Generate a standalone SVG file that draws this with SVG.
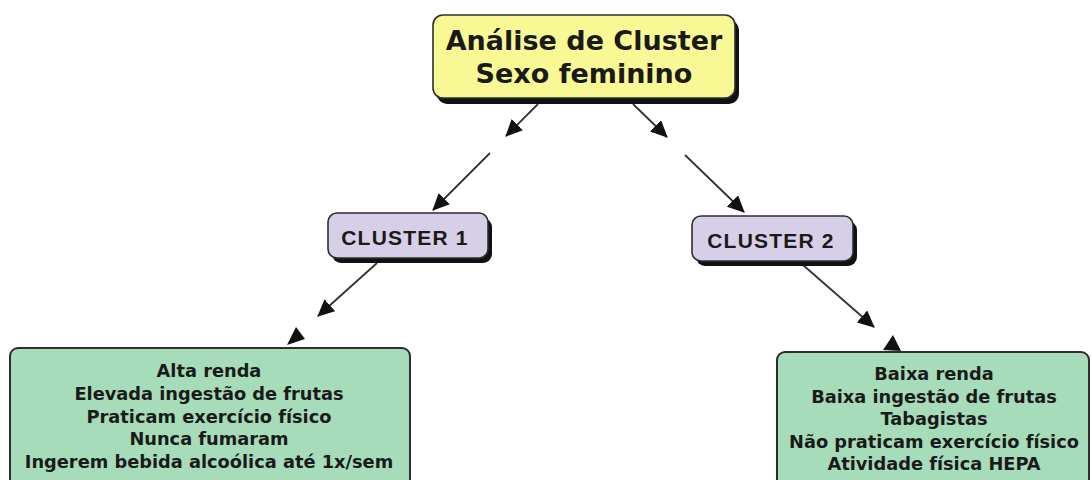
<svg xmlns="http://www.w3.org/2000/svg" width="1091" height="480" viewBox="0 0 1091 480">
  <style>
    .shadow { fill: #111111; }
    .box { stroke: #2e2e2e; stroke-width: 1.6; }
    .root { fill: #f8f895; }
    .cluster { fill: #d6cfe7; }
    .green { fill: #a6dcb9; stroke-width: 2; }
    .t-root { font-family: "DejaVu Sans", Verdana, sans-serif; font-weight: bold; font-size: 27px; fill: #1a1a1a; text-anchor: middle; }
    .t-cl { font-family: "Liberation Sans", Arial, sans-serif; font-weight: bold; font-size: 21px; letter-spacing: 1.2px; fill: #1a1a1a; text-anchor: middle; }
    .t-g { font-family: "DejaVu Sans", Verdana, sans-serif; font-weight: bold; font-size: 17.8px; fill: #1a1a1a; text-anchor: middle; }
    .conn { stroke: #333333; stroke-width: 1.8; fill: none; }
    .head { fill: #111111; }
  </style>
  <defs>
    <marker id="arrow" markerUnits="userSpaceOnUse" viewBox="0 0 17 16" refX="16" refY="8" markerWidth="17" markerHeight="16" orient="auto">
      <path d="M0,0 L17,8 L0,16 z" fill="#111111"/>
    </marker>
  </defs>

  <g id="connectors">
    <line class="conn" x1="538" y1="104" x2="506" y2="136" marker-end="url(#arrow)"/>
    <line class="conn" x1="633" y1="104" x2="667" y2="137" marker-end="url(#arrow)"/>
    <line class="conn" x1="490" y1="153" x2="433" y2="210" marker-end="url(#arrow)"/>
    <line class="conn" x1="685" y1="155" x2="744" y2="212" marker-end="url(#arrow)"/>
    <line class="conn" x1="377" y1="263" x2="318" y2="316" marker-end="url(#arrow)"/>
    <line class="conn" x1="803" y1="265" x2="874" y2="327" marker-end="url(#arrow)"/>
    <polygon class="head" points="296,327 287,345 305,339"/>
    <polygon class="head" points="893,335 883,350 901,351"/>
  </g>

  <g id="root">
    <rect class="shadow" x="437" y="20" width="302" height="84" rx="10"/>
    <rect class="box root" x="433" y="15" width="302" height="83" rx="10"/>
    <text class="t-root" x="584" y="50">Análise de Cluster</text>
    <text class="t-root" x="584" y="83">Sexo feminino</text>
  </g>

  <g id="cluster1">
    <rect class="shadow" x="332" y="218" width="160" height="45" rx="9"/>
    <rect class="box cluster" x="328" y="213" width="160" height="45" rx="9"/>
    <text class="t-cl" x="405" y="245">CLUSTER 1</text>
  </g>

  <g id="cluster2">
    <rect class="shadow" x="696" y="221" width="161" height="45" rx="9"/>
    <rect class="box cluster" x="692" y="216" width="161" height="45" rx="9"/>
    <text class="t-cl" x="771" y="248">CLUSTER 2</text>
  </g>

  <g id="group1">
    <rect class="box green" x="10" y="348" width="400" height="145" rx="8"/>
    <text class="t-g" x="209" y="377">Alta renda</text>
    <text class="t-g" x="209" y="400">Elevada ingestão de frutas</text>
    <text class="t-g" x="209" y="423">Praticam exercício físico</text>
    <text class="t-g" x="209" y="445">Nunca fumaram</text>
    <text class="t-g" x="209" y="468">Ingerem bebida alcoólica até 1x/sem</text>
  </g>

  <g id="group2">
    <rect class="box green" x="777" y="352" width="312" height="145" rx="8"/>
    <text class="t-g" x="934" y="380">Baixa renda</text>
    <text class="t-g" x="934" y="403">Baixa ingestão de frutas</text>
    <text class="t-g" x="934" y="425">Tabagistas</text>
    <text class="t-g" x="934" y="448">Não praticam exercício físico</text>
    <text class="t-g" x="934" y="470">Atividade física HEPA</text>
  </g>
</svg>
